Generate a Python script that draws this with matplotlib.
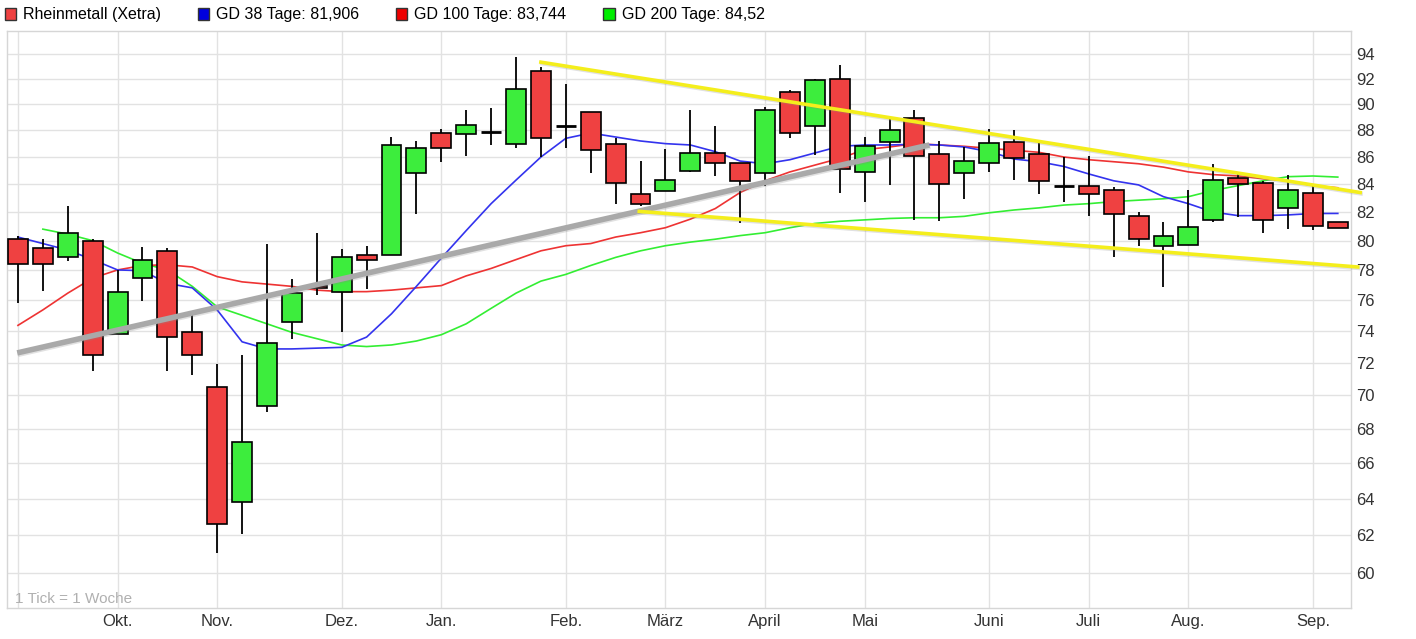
"""
Rheinmetall (Xetra) - Wochenchart mit gleitenden Durchschnitten und Trendlinien
"""

import numpy as np
import matplotlib.pyplot as plt
import matplotlib.patheffects as pe
from matplotlib.patches import Patch
from matplotlib.ticker import FixedLocator, NullLocator

plt.rcParams["font.family"] = ["Liberation Sans", "DejaVu Sans"]

# weekly candles
opens = [80.1, 79.5, 78.9, 80.0, 73.8, 77.45, 79.3, 73.9, 70.5, 63.8,
         69.35, 74.55, 76.95, 76.55, 79.0, 79.0, 84.8, 87.8, 87.7, 87.9,
         87.0, 92.6, 88.35, 89.45, 87.0, 83.3, 83.5, 85.0, 86.3, 85.55,
         84.8, 91.0, 88.3, 92.0, 84.9, 87.1, 88.95, 86.25, 84.8, 85.55,
         87.1, 86.25, 83.9, 83.9, 83.55, 81.75, 79.6, 79.7, 81.45, 84.45,
         84.1, 82.3, 83.4, 81.3]
highs = [80.3, 80.1, 82.45, 80.1, 78.0, 79.55, 79.5, 75.1, 71.9, 72.5,
         79.8, 77.4, 80.55, 79.45, 79.65, 87.5, 87.2, 88.1, 89.6, 89.7,
         93.75, 93.0, 91.6, 89.45, 87.4, 85.7, 86.6, 89.6, 88.3, 85.55,
         89.8, 91.1, 92.0, 93.1, 87.5, 88.9, 89.6, 87.2, 86.75, 88.1,
         88.0, 87.1, 86.0, 86.05, 83.8, 82.0, 81.3, 83.6, 85.5, 84.9,
         84.25, 84.7, 84.0, 81.3]
lows = [75.8, 76.6, 78.6, 71.5, 73.8, 75.95, 71.5, 71.2, 61.05, 62.1,
        69.0, 73.5, 76.3, 73.9, 76.7, 79.0, 81.85, 85.6, 86.1, 86.9,
        86.65, 86.0, 86.7, 84.85, 82.6, 82.4, 83.5, 84.9, 84.6, 81.2,
        83.9, 87.4, 86.15, 83.4, 82.7, 83.95, 81.45, 81.4, 82.9, 84.9,
        84.3, 83.3, 82.7, 81.75, 78.9, 79.6, 76.85, 79.7, 81.3, 81.65,
        80.55, 80.8, 80.75, 80.9]
closes = [78.4, 78.4, 80.5, 72.5, 76.55, 78.7, 73.6, 72.5, 62.6, 67.2,
          73.2, 76.45, 76.8, 78.9, 78.7, 86.9, 86.7, 86.7, 88.4, 87.9,
          91.2, 87.4, 88.35, 86.55, 84.1, 82.6, 84.3, 86.3, 85.55, 84.2,
          89.55, 87.8, 91.9, 85.1, 86.8, 88.0, 86.1, 84.0, 85.7, 87.05,
          85.9, 84.2, 83.9, 83.3, 81.9, 80.1, 80.3, 80.95, 84.3, 84.0,
          81.45, 83.55, 81.0, 80.9]

# moving averages (GD 38 / 100 / 200 Tage)
gd38 = [80.25, 79.8, 79.35, 78.7, 78.0, 77.95, 77.1, 76.8, 75.35, 73.3,
        72.85, 72.85, 72.9, 72.95, 73.6, 75.1, 76.9, 78.8, 80.7, 82.6,
        84.3, 86.0, 87.4, 87.8, 87.5, 87.2, 87.0, 86.9, 86.4, 85.7,
        85.5, 85.8, 86.3, 86.8, 86.9, 86.9, 86.95, 86.9, 86.75, 86.4,
        85.85, 85.65, 85.3, 84.75, 84.25, 83.95, 83.1, 82.6, 82.0, 81.75,
        81.75, 81.8, 81.9, 81.906]
gd100 = [74.35, 75.35, 76.45, 77.45, 78.0, 78.3, 78.35, 78.2, 77.55, 77.2,
         77.05, 76.9, 76.65, 76.55, 76.55, 76.65, 76.8, 76.95, 77.6, 78.1,
         78.7, 79.3, 79.65, 79.8, 80.25, 80.55, 80.9, 81.5, 82.25, 83.4,
         84.25, 84.9, 85.4, 85.9, 86.55, 86.75, 87.0, 86.9, 86.8, 86.65,
         86.5, 86.35, 86.0, 85.8, 85.65, 85.5, 85.25, 84.9, 84.7, 84.6,
         84.4, 84.25, 83.9, 83.744]
gd200 = [np.nan, 80.8, 80.45, 80.0, 79.15, 78.45, 78.0, 76.9, 75.55, 75.0,
         74.45, 73.9, 73.5, 73.1, 73.0, 73.1, 73.35, 73.75, 74.45, 75.45,
         76.45, 77.25, 77.7, 78.3, 78.85, 79.3, 79.65, 79.9, 80.1, 80.35,
         80.55, 80.9, 81.2, 81.35, 81.45, 81.55, 81.6, 81.6, 81.7, 81.95,
         82.15, 82.3, 82.5, 82.6, 82.75, 82.85, 82.95, 83.1, 83.55, 83.9,
         84.25, 84.55, 84.6, 84.52]

# trend lines drawn on the chart (week index, price)
upper_x, upper_y = [21.0, 53.9], [93.35, 83.4]
lower_x, lower_y = [24.95, 53.8], [82.05, 78.2]
support_x, support_y = [-0.03, 36.6], [72.6, 86.9]

month_pos = [0, 4, 8, 13, 17, 22, 26, 30, 34, 39, 43, 47, 52]
month_labels = ["", "Okt.", "Nov.", "Dez.", "Jan.", "Feb.", "März", "April",
                "Mai", "Juni", "Juli", "Aug.", "Sep."]
price_ticks = list(range(60, 96, 2))

RED = "#ef4141"
GREEN = "#3ded3d"

fig = plt.figure(figsize=(14.16, 6.39), dpi=100)
ax = fig.add_axes([7 / 1416, 31 / 639, 1344 / 1416, 577 / 639])

x = np.arange(len(opens))

# moving averages under the candles
ax.plot(x, gd200, color="#33ee33", lw=1.2, zorder=2)
ax.plot(x, gd100, color="#ee3333", lw=1.2, zorder=2)
ax.plot(x, gd38, color="#3333ee", lw=1.2, zorder=2)

# candles
w = 0.8
for i in x:
    o, h, l, c = opens[i], highs[i], lows[i], closes[i]
    ax.vlines(i, l, h, color="black", lw=1.3, zorder=3)
    if o == c:
        ax.hlines(o, i - w / 2, i + w / 2, color="black", lw=2, zorder=4)
        continue
    col = GREEN if c > o else RED
    ax.bar(i, abs(c - o), bottom=min(o, c), width=w, color=col,
           edgecolor="black", linewidth=1.2, zorder=4)

# trend lines
shadow = [pe.SimpleLineShadow(offset=(0.6, -1.0), shadow_color="#888888", alpha=0.25),
          pe.Normal()]
ax.plot(support_x, support_y, color="#a9a9a9", lw=4, zorder=5,
        solid_capstyle="butt", path_effects=shadow)
ax.plot(upper_x, upper_y, color="#f4ee1c", lw=2.6, zorder=6, clip_on=False,
        path_effects=shadow)
ax.plot(lower_x, lower_y, color="#f4ee1c", lw=2.6, zorder=6, clip_on=False,
        path_effects=shadow)

# axes formatting
ax.set_yscale("log")
ax.set_ylim(58.23, 95.9)
ax.set_xlim(-0.44, 53.53)
ax.yaxis.set_major_locator(FixedLocator(price_ticks))
ax.yaxis.set_minor_locator(NullLocator())
ax.set_yticklabels([str(t) for t in price_ticks])
ax.yaxis.tick_right()
ax.set_xticks(month_pos)
ax.set_xticklabels(month_labels)
ax.tick_params(axis="both", length=0, labelsize=12, colors="#333333")
ax.tick_params(axis="y", pad=4)
ax.tick_params(axis="x", pad=4)
ax.grid(True, color="#e2e2e2", lw=1, zorder=0)
ax.set_axisbelow(True)
for s in ax.spines.values():
    s.set_color("#d6d6d6")
    s.set_linewidth(1)

ax.text(0.006, 0.004, "1 Tick = 1 Woche", transform=ax.transAxes,
        fontsize=11, color="#b0b0b0", va="bottom", ha="left")

# legend on top
handles = [
    Patch(facecolor=RED, edgecolor="#333333", label="Rheinmetall (Xetra)"),
    Patch(facecolor="#0000dd", edgecolor="#333333", label="GD 38 Tage: 81,906"),
    Patch(facecolor="#ee0000", edgecolor="#333333", label="GD 100 Tage: 83,744"),
    Patch(facecolor="#00ee00", edgecolor="#333333", label="GD 200 Tage: 84,52"),
]
fig.legend(handles=handles, loc="center left", bbox_to_anchor=(0.0, 1 - 15 / 639),
           ncol=4, frameon=False, fontsize=11.5, handlelength=0.7, handleheight=0.7,
           handletextpad=0.45, columnspacing=2.3, borderpad=0, borderaxespad=0.3)

plt.savefig("out.png", dpi=100)
